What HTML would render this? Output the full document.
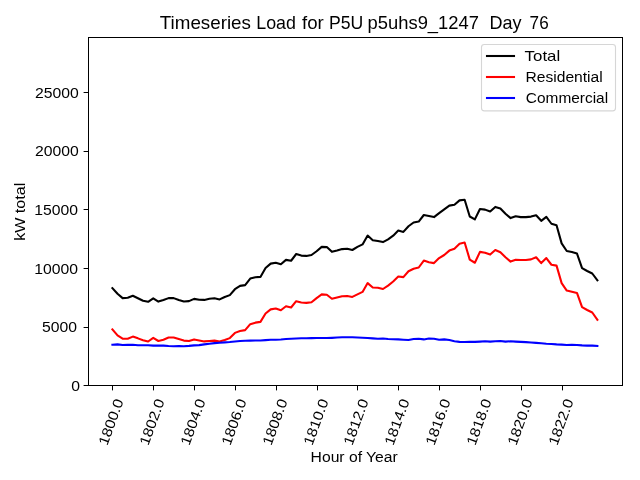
<!DOCTYPE html>
<html><head><meta charset="utf-8"><style>
html,body{margin:0;padding:0;background:#fff;overflow:hidden;}
svg{display:block;will-change:transform;}
text{font-family:"Liberation Sans", sans-serif;fill:#000;}
</style></head><body>
<svg width="640" height="480" viewBox="0 0 640 480">
<rect x="0" y="0" width="640" height="480" fill="#fff"/>
<polyline points="112.40,288.10 117.51,293.80 122.61,298.10 127.72,297.80 132.82,295.80 137.93,298.20 143.03,300.80 148.13,301.80 153.24,298.30 158.35,301.60 163.45,300.00 168.56,298.10 173.66,298.10 178.77,300.00 183.87,301.50 188.98,301.10 194.08,298.90 199.19,299.70 204.29,299.90 209.40,298.70 214.50,298.20 219.61,299.40 224.71,297.00 229.81,295.10 234.92,289.20 240.03,285.90 245.13,285.10 250.24,278.60 255.34,277.25 260.45,276.90 265.55,268.00 270.66,263.60 275.76,262.75 280.87,264.25 285.97,259.90 291.08,260.75 296.18,254.00 301.29,255.60 306.39,255.90 311.50,255.00 316.60,251.25 321.71,246.90 326.81,247.10 331.92,251.85 337.02,250.60 342.12,249.10 347.23,248.70 352.34,250.00 357.44,246.90 362.55,244.40 367.65,235.60 372.75,240.25 377.86,241.00 382.97,242.10 388.07,239.40 393.18,235.70 398.28,230.60 403.38,231.90 408.49,226.25 413.60,222.50 418.70,221.60 423.81,215.00 428.91,216.00 434.01,217.10 439.12,213.10 444.23,209.40 449.33,205.60 454.44,204.75 459.54,200.40 464.64,199.80 469.75,216.50 474.86,219.40 479.96,209.00 485.07,209.60 490.17,211.50 495.28,206.90 500.38,208.50 505.49,213.75 510.59,218.10 515.70,216.25 520.80,217.10 525.91,217.10 531.01,216.60 536.12,215.30 541.22,220.80 546.33,216.90 551.43,223.75 556.54,225.25 561.64,243.40 566.75,251.00 571.85,251.90 576.96,253.50 582.06,268.10 587.17,271.00 592.27,273.50 597.38,280.30" fill="none" stroke="#000" stroke-width="2.08" stroke-linejoin="round" stroke-linecap="square"/>
<polyline points="112.40,329.35 117.51,335.35 122.61,338.70 127.72,338.70 132.82,336.60 137.93,338.35 143.03,340.25 148.13,341.50 153.24,337.90 158.35,341.00 163.45,339.75 168.56,337.50 173.66,337.50 178.77,339.10 183.87,340.60 188.98,341.00 194.08,339.40 199.19,340.40 204.29,341.40 209.40,341.00 214.50,340.65 219.61,341.50 224.71,340.00 229.81,338.10 234.92,332.90 240.03,331.00 245.13,330.15 250.24,324.15 255.34,322.65 260.45,321.90 265.55,313.50 270.66,309.35 275.76,308.50 280.87,310.20 285.97,306.20 291.08,307.50 296.18,301.20 301.29,302.50 306.39,302.90 311.50,302.25 316.60,298.10 321.71,294.40 326.81,294.70 331.92,298.75 337.02,297.50 342.12,296.25 347.23,296.00 352.34,296.90 357.44,294.40 362.55,291.90 367.65,283.10 372.75,287.50 377.86,287.75 382.97,289.00 388.07,285.60 393.18,281.50 398.28,276.50 403.38,277.10 408.49,271.25 413.60,268.75 418.70,267.50 423.81,260.60 428.91,262.25 434.01,263.10 439.12,258.10 444.23,255.00 449.33,250.60 454.44,248.75 459.54,243.75 464.64,242.50 469.75,259.60 474.86,262.75 479.96,251.90 485.07,252.75 490.17,254.60 495.28,250.00 500.38,252.25 505.49,257.25 510.59,261.60 515.70,259.75 520.80,260.00 525.91,260.00 531.01,259.40 536.12,257.20 541.22,263.10 546.33,258.10 551.43,264.75 556.54,265.60 561.64,283.10 566.75,290.60 571.85,291.70 576.96,292.90 582.06,307.10 587.17,310.00 592.27,312.50 597.38,319.75" fill="none" stroke="#f00" stroke-width="2.08" stroke-linejoin="round" stroke-linecap="square"/>
<polyline points="112.40,344.75 117.51,344.40 122.61,345.00 127.72,344.90 132.82,344.75 137.93,345.25 143.03,345.25 148.13,345.25 153.24,345.60 158.35,345.60 163.45,345.60 168.56,346.00 173.66,346.20 178.77,346.10 183.87,346.20 188.98,345.85 194.08,345.35 199.19,345.10 204.29,344.35 209.40,343.70 214.50,343.10 219.61,342.70 224.71,342.35 229.81,342.05 234.92,341.47 240.03,340.95 245.13,340.75 250.24,340.60 255.34,340.52 260.45,340.49 265.55,340.10 270.66,339.77 275.76,339.77 280.87,339.46 285.97,339.00 291.08,338.75 296.18,338.52 301.29,338.31 306.39,338.19 311.50,338.09 316.60,338.01 321.71,338.05 326.81,338.05 331.92,337.85 337.02,337.54 342.12,337.27 347.23,337.18 352.34,337.27 357.44,337.50 362.55,337.69 367.65,337.94 372.75,338.38 377.86,338.75 382.97,338.50 388.07,339.00 393.18,339.20 398.28,339.40 403.38,339.75 408.49,340.00 413.60,339.00 418.70,338.75 423.81,339.40 428.91,338.50 434.01,338.75 439.12,339.75 444.23,339.40 449.33,340.00 454.44,341.25 459.54,341.90 464.64,342.00 469.75,341.90 474.86,341.90 479.96,341.60 485.07,341.25 490.17,341.60 495.28,341.25 500.38,341.00 505.49,341.60 510.59,341.25 515.70,341.60 520.80,341.90 525.91,342.10 531.01,342.50 536.12,342.90 541.22,343.30 546.33,343.75 551.43,344.00 556.54,344.40 561.64,344.60 566.75,345.00 571.85,344.75 576.96,345.00 582.06,345.40 587.17,345.60 592.27,345.60 597.38,345.90" fill="none" stroke="#00f" stroke-width="2.08" stroke-linejoin="round" stroke-linecap="square"/>
<rect x="88.5" y="37.5" width="534" height="348" fill="none" stroke="#000" stroke-width="1"/>
<line x1="83.6" y1="385.5" x2="88.5" y2="385.5" stroke="#000" stroke-width="1"/>
<text x="0" y="0" transform="translate(80.00,390.95) scale(1.1166,1)" text-anchor="end" font-size="14.10">0</text>
<line x1="83.6" y1="327.5" x2="88.5" y2="327.5" stroke="#000" stroke-width="1"/>
<text x="0" y="0" transform="translate(77.00,332.00) scale(1.1166,1)" text-anchor="end" font-size="14.10">5000</text>
<line x1="83.6" y1="268.5" x2="88.5" y2="268.5" stroke="#000" stroke-width="1"/>
<text x="0" y="0" transform="translate(77.90,273.96) scale(1.1166,1)" text-anchor="end" font-size="14.10">10000</text>
<line x1="83.6" y1="209.5" x2="88.5" y2="209.5" stroke="#000" stroke-width="1"/>
<text x="0" y="0" transform="translate(77.90,214.96) scale(1.1166,1)" text-anchor="end" font-size="14.10">15000</text>
<line x1="83.6" y1="151.5" x2="88.5" y2="151.5" stroke="#000" stroke-width="1"/>
<text x="0" y="0" transform="translate(78.85,155.95) scale(1.1166,1)" text-anchor="end" font-size="14.10">20000</text>
<line x1="83.6" y1="92.5" x2="88.5" y2="92.5" stroke="#000" stroke-width="1"/>
<text x="0" y="0" transform="translate(78.85,97.96) scale(1.1166,1)" text-anchor="end" font-size="14.10">25000</text>
<line x1="112.5" y1="385.5" x2="112.5" y2="390.4" stroke="#000" stroke-width="1"/>
<text x="0" y="0" transform="translate(123.85,401.00) rotate(-70) scale(1.1188,1)" text-anchor="end" font-size="14.10">1800.0</text>
<line x1="153.5" y1="385.5" x2="153.5" y2="390.4" stroke="#000" stroke-width="1"/>
<text x="0" y="0" transform="translate(164.85,401.00) rotate(-70) scale(1.1188,1)" text-anchor="end" font-size="14.10">1802.0</text>
<line x1="194.5" y1="385.5" x2="194.5" y2="390.4" stroke="#000" stroke-width="1"/>
<text x="0" y="0" transform="translate(205.85,401.00) rotate(-70) scale(1.1188,1)" text-anchor="end" font-size="14.10">1804.0</text>
<line x1="235.5" y1="385.5" x2="235.5" y2="390.4" stroke="#000" stroke-width="1"/>
<text x="0" y="0" transform="translate(246.85,401.00) rotate(-70) scale(1.1188,1)" text-anchor="end" font-size="14.10">1806.0</text>
<line x1="276.5" y1="385.5" x2="276.5" y2="390.4" stroke="#000" stroke-width="1"/>
<text x="0" y="0" transform="translate(287.85,401.00) rotate(-70) scale(1.1188,1)" text-anchor="end" font-size="14.10">1808.0</text>
<line x1="317.5" y1="385.5" x2="317.5" y2="390.4" stroke="#000" stroke-width="1"/>
<text x="0" y="0" transform="translate(328.85,401.00) rotate(-70) scale(1.1188,1)" text-anchor="end" font-size="14.10">1810.0</text>
<line x1="357.5" y1="385.5" x2="357.5" y2="390.4" stroke="#000" stroke-width="1"/>
<text x="0" y="0" transform="translate(368.85,401.00) rotate(-70) scale(1.1188,1)" text-anchor="end" font-size="14.10">1812.0</text>
<line x1="398.5" y1="385.5" x2="398.5" y2="390.4" stroke="#000" stroke-width="1"/>
<text x="0" y="0" transform="translate(409.85,401.00) rotate(-70) scale(1.1188,1)" text-anchor="end" font-size="14.10">1814.0</text>
<line x1="439.5" y1="385.5" x2="439.5" y2="390.4" stroke="#000" stroke-width="1"/>
<text x="0" y="0" transform="translate(450.85,401.00) rotate(-70) scale(1.1188,1)" text-anchor="end" font-size="14.10">1816.0</text>
<line x1="480.5" y1="385.5" x2="480.5" y2="390.4" stroke="#000" stroke-width="1"/>
<text x="0" y="0" transform="translate(491.85,401.00) rotate(-70) scale(1.1188,1)" text-anchor="end" font-size="14.10">1818.0</text>
<line x1="521.5" y1="385.5" x2="521.5" y2="390.4" stroke="#000" stroke-width="1"/>
<text x="0" y="0" transform="translate(532.85,401.00) rotate(-70) scale(1.1188,1)" text-anchor="end" font-size="14.10">1820.0</text>
<line x1="562.5" y1="385.5" x2="562.5" y2="390.4" stroke="#000" stroke-width="1"/>
<text x="0" y="0" transform="translate(573.85,401.00) rotate(-70) scale(1.1188,1)" text-anchor="end" font-size="14.10">1822.0</text>
<text x="0" y="0" transform="translate(159.82,29.40) scale(1.0606,1)" font-size="17.70">Timeseries</text>
<text x="0" y="0" transform="translate(256.22,29.40) scale(1.0078,1)" font-size="17.70">Load</text>
<text x="0" y="0" transform="translate(301.96,29.40) scale(1.0532,1)" font-size="17.70">for</text>
<text x="0" y="0" transform="translate(329.04,29.40) scale(0.9964,1)" font-size="17.70">P5U</text>
<text x="0" y="0" transform="translate(367.53,29.40) scale(1.0392,1)" font-size="17.70">p5uhs9_1247</text>
<text x="0" y="0" transform="translate(489.47,29.40) scale(1.0197,1)" font-size="17.70">Day</text>
<text x="0" y="0" transform="translate(529.62,29.40) scale(0.9672,1)" font-size="17.70">76</text>
<text x="0" y="0" transform="translate(310.57,461.63) scale(1.1143,1)" text-anchor="start" font-size="14.10">Hour of Year</text>
<text x="0" y="0" transform="translate(25.28,240.86) rotate(-90) scale(1.1424,1)" text-anchor="start" font-size="14.10">kW total</text>
<rect x="481.5" y="44.5" width="134" height="66.4" rx="2.8" ry="2.8" fill="#fff" fill-opacity="0.8" stroke="#d6d6d6" stroke-width="1.11"/>
<line x1="487" y1="56.0" x2="514" y2="56.0" stroke="#000" stroke-width="2.08" stroke-linecap="square"/>
<text x="0" y="0" transform="translate(524.61,60.80) scale(1.1966,1)" text-anchor="start" font-size="14.10">Total</text>
<line x1="487" y1="77.0" x2="514" y2="77.0" stroke="#f00" stroke-width="2.08" stroke-linecap="square"/>
<text x="0" y="0" transform="translate(525.42,81.75) scale(1.1099,1)" text-anchor="start" font-size="14.10">Residential</text>
<line x1="487" y1="98.0" x2="514" y2="98.0" stroke="#00f" stroke-width="2.08" stroke-linecap="square"/>
<text x="0" y="0" transform="translate(525.86,102.87) scale(1.0947,1)" text-anchor="start" font-size="14.10">Commercial</text>
</svg>
</body></html>
